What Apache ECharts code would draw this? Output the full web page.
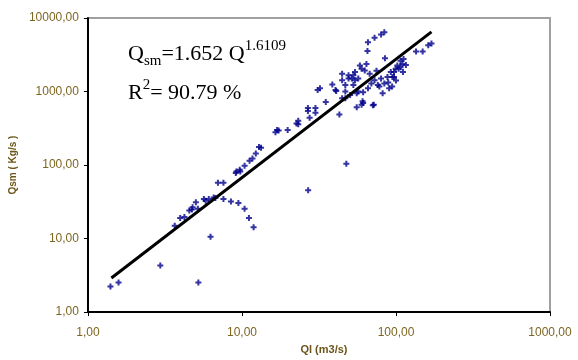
<!DOCTYPE html>
<html>
<head>
<meta charset="utf-8">
<script src="https://cdn.jsdelivr.net/npm/echarts@6/dist/echarts.min.js"></script>
<style>
html,body{margin:0;padding:0;background:#fff;}
#chart{width:578px;height:360px;}
</style>
</head>
<body>
<div id="chart"></div>
<script>
// Observed data: Ql (m3/s) and Qsm (Kg/s)
var qlValues = [1.40,1.58,2.95,5.21,6.25,3.66,3.97,4.23,4.55,4.73,5.02,5.17,5.81,6.09,6.55,6.98,7.58,7.58,8.48,9.48,10.4,11.1,11.9,26.9,9.12,9.75,6.72,4.78,5.66,10.4,11.2,11.7,12.3,13.3,16.5,17.3,16.9,19.8,23.2,23.2,26.8,26.8,27.5,30.0,30.0,31.0,32.1,35.0,38.6,40.9,42.9,44.7,47.6,46.9,52.9,54.2,56.9,55.6,60.7,46.9,50.4,65.8,72.6,80.0,84.0,65.3,84.8,64.3,59.8,58.3,44.7,49.2,54.2,40.5,46.9,55.6,61.2,70.8,81.9,72.6,80.0,88.1,94.8,97.1,102,107,112,110,104,99.5,92.5,84.0,76.2,69.2,65.8,135,149,162,170,44.7,71.8,89.0,97.1,107,22.6,12.9,9.67,9.20,59.8,62.7,56.9,51.7,52.9,61.2,49.2,67.5,74.7,78.0,90.3,100,111,116,94.4];
var qsmValues = [2.23,2.53,4.30,2.53,10.6,14.9,19.0,19.6,24.1,24.9,31.1,25.4,32.7,34.5,36.2,57.3,57.3,34.5,32.0,30.5,25.4,19.0,14.3,45.4,77.8,82.0,35.5,26.7,34.5,97.5,114,123,144,172,279,294,299,299,399,359,599,542,441,599,514,1050,1105,719,1248,1017,488,1748,104,1222,1660,1841,998,612,735,813,900,4697,5370,5943,6380,3565,2826,2373,2037,2254,1423,1500,1423,1050,998,948,698,650,948,1423,1500,1580,1580,1841,2254,2626,2767,2373,2037,2037,1841,1288,1222,1288,1105,3500,3500,4246,4513,813,662,1327,1580,2145,367,176,86.3,82.0,662,1932,1500,1500,1222,977,1660,1748,1916,1175,1105,1411,1841,2302,1175];
// Fitted power trend line endpoints (Qsm = 1.652 Ql^1.6109)
var trendQl = [1.42, 170];
var trendQsm = [2.91, 6465];
// Tick labels
var xTickLabels = ['1,00','10,00','100,00','1000,00'];
var yTickLabels = ['1,00','10,00','100,00','1000,00','10000,00'];

var points = qlValues.map(function(v,i){return [v, qsmValues[i]];});
var trend = trendQl.map(function(v,i){return [v, trendQsm[i]];});

var labelColor = '#7d6622';
var chart = echarts.init(document.getElementById('chart'));
chart.setOption({
  backgroundColor:'#ffffff',
  animation:false,
  grid:{left:76, top:18, right:28, bottom:41, show:true, borderColor:'#a0a0a0', borderWidth:2, backgroundColor:'transparent'},
  xAxis:{
    type:'log', logBase:10, min:1, max:1000, interval:1,
    name:'Ql (m3/s)', nameLocation:'middle', nameGap:29,
    nameTextStyle:{fontFamily:'Liberation Sans', fontSize:11, fontWeight:'bold', color:'#6b5518', padding:[0,0,0,10]},
    axisLine:{show:true, lineStyle:{color:'#000', width:2}},
    axisTick:{show:true, inside:false, length:4, lineStyle:{color:'#000', width:1}},
    minorTick:{show:false}, splitLine:{show:false}, minorSplitLine:{show:false},
    axisLabel:{margin:15, fontFamily:'Liberation Sans', fontSize:12, color:labelColor,
      formatter:function(v){return xTickLabels[Math.round(Math.log10(v))];}}
  },
  yAxis:{
    type:'log', logBase:10, min:1, max:10000, interval:1,
    name:'Qsm ( Kg/s )', nameLocation:'middle', nameGap:50, nameRotate:90,
    nameTextStyle:{fontFamily:'Liberation Sans', fontSize:10, fontWeight:'bold', color:'#6b5518'},
    axisLine:{show:true, lineStyle:{color:'#000', width:2}},
    axisTick:{show:true, inside:false, length:4, lineStyle:{color:'#000', width:1}},
    minorTick:{show:false}, splitLine:{show:false}, minorSplitLine:{show:false},
    axisLabel:{margin:9, fontFamily:'Liberation Sans', fontSize:12, color:labelColor,
      formatter:function(v){return yTickLabels[Math.round(Math.log10(v))];}}
  },
  series:[
    {type:'scatter', data:points, symbol:'path://M2,0H4V2H6V4H4V6H2V4H0V2H2Z', symbolSize:6,
     itemStyle:{color:'#00008b'}, z:2},
    {type:'line', data:trend, showSymbol:false, symbol:'none', lineStyle:{color:'#000', width:3}, z:3}
  ],
  graphic:[
    {type:'text', left:128, top:39, z:10, style:{
      text:'{m|Q}{sub|sm}{m|=1.652 Q}{sup|1.6109}',
      fill:'#000',
      rich:{
        m:{fontFamily:'Liberation Serif', fontSize:22, lineHeight:30, verticalAlign:'middle', fill:'#000'},
        sub:{fontFamily:'Liberation Serif', fontSize:15, lineHeight:30, verticalAlign:'bottom', fill:'#000'},
        sup:{fontFamily:'Liberation Serif', fontSize:15, lineHeight:30, verticalAlign:'top', fill:'#000'}
      }}},
    {type:'text', left:128, top:78, z:10, style:{
      text:'{m|R}{sup|2}{m|= 90.79 %}',
      fill:'#000',
      rich:{
        m:{fontFamily:'Liberation Serif', fontSize:22, lineHeight:30, verticalAlign:'middle', fill:'#000'},
        sup:{fontFamily:'Liberation Serif', fontSize:15, lineHeight:30, verticalAlign:'top', fill:'#000'}
      }}}
  ]
});
</script>
</body>
</html>
